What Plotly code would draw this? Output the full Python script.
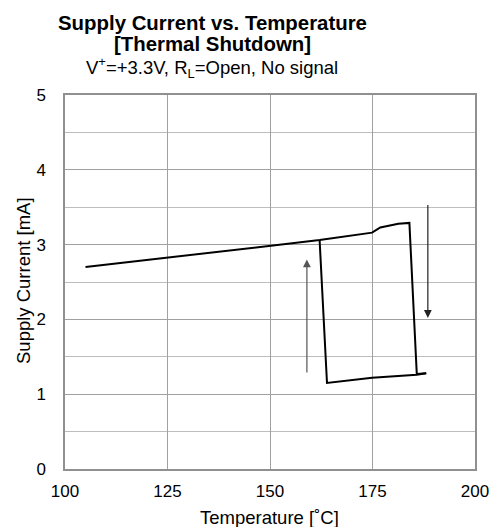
import plotly.graph_objects as go

# Heating sweep (supply current rises, then shuts down)
heat_temp = [105.0, 162.1, 174.9, 176.9, 181.3, 184.0, 185.8, 188.1]
heat_curr = [2.70, 3.06, 3.16, 3.23, 3.28, 3.29, 1.27, 1.28]
# Cooling sweep (stays off, then recovers)
cool_temp = [188.1, 185.8, 174.9, 163.9, 162.1]
cool_curr = [1.28, 1.26, 1.22, 1.15, 3.06]

x_ticks = [100, 125, 150, 175, 200]
y_ticks = [0, 1, 2, 3, 4, 5]

# Arrows (direction indicators): x, start y, end y
up_arrow = (159.0, 1.27, 2.80)
down_arrow = (188.5, 3.55, 2.02)

FONT = "Liberation Sans, Arial, sans-serif"
W, H = 489, 527
L, T = 65, 95
R = W - 475
B = H - 469
PW, PH = W - L - R, H - T - B


def py(ref_y):
    """page pixel y -> paper coordinate"""
    return (469 - ref_y) / PH


def px(ref_x):
    return (ref_x - L) / PW


fig = go.Figure()
fig.add_trace(go.Scatter(x=heat_temp, y=heat_curr, mode="lines",
                         line=dict(color="black", width=2), showlegend=False))
fig.add_trace(go.Scatter(x=cool_temp, y=cool_curr, mode="lines",
                         line=dict(color="black", width=2), showlegend=False))

for (ax_x, y0, y1), col in [(up_arrow, "#555555"), (down_arrow, "#222222")]:
    fig.add_annotation(x=ax_x, y=y1, ax=ax_x, ay=y0, xref="x", yref="y",
                       axref="x", ayref="y", showarrow=True, arrowhead=2,
                       arrowsize=1.3, arrowwidth=1.2, arrowcolor=col, text="")

tx = px(212)
fig.add_annotation(text="<b>Supply Current vs. Temperature</b>", xref="paper", yref="paper",
                   x=tx, y=py(23), xanchor="center", yanchor="middle",
                   showarrow=False, font=dict(family=FONT, size=20.4, color="black"))
fig.add_annotation(text="<b>[Thermal Shutdown]</b>", xref="paper", yref="paper",
                   x=tx, y=py(44), xanchor="center", yanchor="middle",
                   showarrow=False, font=dict(family=FONT, size=20.4, color="black"))
fig.add_annotation(text="V<sup>+</sup>=+3.3V, R<sub>L</sub>=Open, No signal",
                   xref="paper", yref="paper", x=tx, y=py(68),
                   xanchor="center", yanchor="middle", showarrow=False,
                   font=dict(family=FONT, size=18.5, color="black"))
fig.add_annotation(text="Temperature [˚C]", xref="paper", yref="paper",
                   x=px(269), y=py(517),
                   xanchor="center", yanchor="middle", showarrow=False,
                   font=dict(family=FONT, size=18.5, color="black"))
fig.add_annotation(text="Supply Current [mA]", xref="paper", yref="paper",
                   x=px(23), y=py(281), textangle=-90,
                   xanchor="center", yanchor="middle", showarrow=False,
                   font=dict(family=FONT, size=18.5, color="black"))

fig.update_layout(
    width=W, height=H,
    margin=dict(l=L, r=R, t=T, b=B, autoexpand=False),
    paper_bgcolor="white", plot_bgcolor="white",
    font=dict(family=FONT, size=17, color="black"),
)
fig.update_xaxes(range=[100, 200], tickvals=x_ticks, ticktext=[str(v) for v in x_ticks],
                 showgrid=True, gridcolor="#a0a0a0", gridwidth=1,
                 showline=True, linecolor="#909090", linewidth=1.5, mirror=True,
                 zeroline=False, ticks="", ticklabelstandoff=6, automargin=False,
                 ticklabeloverflow="allow",
                 tickfont=dict(family=FONT, size=17))
fig.update_yaxes(range=[0, 5], tickvals=y_ticks, ticktext=[str(v) for v in y_ticks],
                 showgrid=True, gridcolor="#a0a0a0", gridwidth=1,
                 minor=dict(dtick=0.5, showgrid=True, gridcolor="#bdbdbd", gridwidth=1),
                 showline=True, linecolor="#909090", linewidth=1.5, mirror=True,
                 zeroline=False, ticks="", ticklabelstandoff=14, automargin=False,
                 ticklabeloverflow="allow",
                 tickfont=dict(family=FONT, size=17))

fig.write_html("out.html", config={"displayModeBar": False},
               post_script="document.body.style.margin='0';document.body.style.overflow='hidden';")
